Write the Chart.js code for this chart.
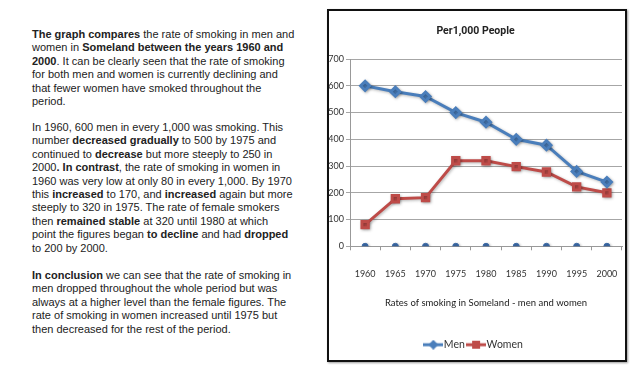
<!DOCTYPE html>
<html>
<head>
<meta charset="utf-8">
<script src="https://cdn.jsdelivr.net/npm/chart.js@4/dist/chart.umd.min.js"></script>
<style>
  body { margin: 0; background: #fff; width: 638px; height: 371px; overflow: hidden; position: relative; }
  .txt { position: absolute; left: 32px; font-family: "Liberation Sans", Arial, sans-serif; font-size: 11px; line-height: 13.4px; color: #222; white-space: nowrap; margin: 0; }
  #box { position: absolute; left: 327px; top: 9px; width: 296px; height: 349px; border: 2px solid #111; box-shadow: 1px 1px 2px rgba(0,0,0,0.4); }
  #box canvas { display: block; }
</style>
</head>
<body>
<p class="txt" style="top:28px"><b>The graph compares</b> the rate of smoking in men and<br>women in <b>Someland between the years 1960 and</b><br><b>2000</b>. It can be clearly seen that the rate of smoking<br>for both men and women is currently declining and<br>that fewer women have smoked throughout the<br>period.</p>
<p class="txt" style="top:121px">In 1960, 600 men in every 1,000 was smoking. This<br>number <b>decreased gradually</b> to 500 by 1975 and<br>continued to <b>decrease</b> but more steeply to 250 in<br>2000<b>. In contrast</b>, the rate of smoking in women in<br>1960 was very low at only 80 in every 1,000. By 1970<br>this <b>increased</b> to 170, and <b>increased</b> again but more<br>steeply to 320 in 1975. The rate of female smokers<br>then <b>remained stable</b> at 320 until 1980 at which<br>point the figures began <b>to decline</b> and had <b>dropped</b><br>to 200 by 2000.</p>
<p class="txt" style="top:269px"><b>In conclusion</b> we can see that the rate of smoking in<br>men dropped throughout the whole period but was<br>always at a higher level than the female figures. The<br>rate of smoking in women increased until 1975 but<br>then decreased for the rest of the period.</p>
<div id="box"><canvas id="chart" width="296" height="349"></canvas></div>
<script>
const years = ['1960', '1965', '1970', '1975', '1980', '1985', '1990', '1995', '2000'];
const men = [600, 578, 560, 500, 464, 400, 378, 280, 240];
const women = [81, 178, 182, 320, 320, 298, 278, 222, 200];
const yearBase = [0, 0, 0, 0, 0, 0, 0, 0, 0];
const yTicks = [0, 100, 200, 300, 400, 500, 600, 700];

const font = 'Lato, "Liberation Sans", sans-serif';
const boldFont = 'Roboto, "Liberation Sans", sans-serif';
const blue = '#4a7ebb';
const red = '#be4b48';

// small legend icon: line with the marker in the middle
function legendIcon(color, style) {
    const c = document.createElement('canvas');
    c.width = 20; c.height = 10;
    const g = c.getContext('2d');
    g.strokeStyle = color; g.fillStyle = color; g.lineWidth = 3;
    g.beginPath(); g.moveTo(0, 5); g.lineTo(20, 5); g.stroke();
    if (style === 'rect') {
        g.fillRect(6, 1, 8, 8);
    } else {
        g.beginPath(); g.moveTo(10, 0); g.lineTo(15, 5); g.lineTo(10, 10); g.lineTo(5, 5); g.closePath(); g.fill();
    }
    return c;
}

const lineShadow = {
    id: 'lineShadow',
    beforeDatasetsDraw(chart) {
        const ctx = chart.ctx;
        ctx.save();
        ctx.shadowColor = 'rgba(0,0,0,0.3)';
        ctx.shadowBlur = 3;
        ctx.shadowOffsetX = 1;
        ctx.shadowOffsetY = 1;
    },
    afterDatasetsDraw(chart) {
        chart.ctx.restore();
    }
};

const ctx = document.getElementById('chart').getContext('2d');
const chart = new Chart(ctx, {
    type: 'line',
    data: {
        labels: years,
        datasets: [{
            label: 'Men',
            data: men,
            borderColor: blue,
            backgroundColor: blue,
            borderWidth: 3,
            pointStyle: 'rectRot',
            pointRadius: 4.5,
            tension: 0
        }, {
            label: 'Women',
            data: women,
            borderColor: red,
            backgroundColor: red,
            borderWidth: 3,
            pointStyle: 'rect',
            pointRadius: 4.5,
            tension: 0
        }, {
            label: 'Year',
            data: yearBase,
            showLine: false,
            borderColor: '#3c6aa6',
            backgroundColor: '#3c6aa6',
            pointStyle: 'circle',
            pointRadius: 3
        }]
    },
    options: {
        responsive: false,
        animation: false,
        layout: { autoPadding: false, padding: { left: 0, right: 3, top: 0, bottom: 0 } },
        plugins: {
            title: {
                display: true,
                text: 'Per1,000 People',
                color: '#222',
                font: { family: boldFont, size: 10.5, weight: 'bold' },
                padding: { top: 14, bottom: 21.5 }
            },
            legend: {
                position: 'bottom',
                labels: {
                    color: '#333',
                    font: { family: font, size: 10.5 },
                    usePointStyle: true,
                    boxWidth: 20,
                    padding: 6,
                    filter: (item) => item.text !== 'Year',
                    generateLabels(ch) {
                        return ch.data.datasets.map((ds, i) => ({
                            text: ds.label,
                            pointStyle: legendIcon(ds.borderColor, ds.pointStyle),
                            fillStyle: ds.borderColor,
                            strokeStyle: ds.borderColor,
                            lineWidth: 0,
                            fontColor: '#333',
                            datasetIndex: i
                        }));
                    }
                }
            },
            tooltip: { enabled: false }
        },
        scales: {
            x: {
                offset: true,
                afterFit(scale) { scale.paddingLeft = 0; scale.paddingRight = 0; },
                grid: { display: true, drawOnChartArea: false, offset: true, tickLength: 4, color: '#999' },
                border: { color: '#999' },
                ticks: { color: '#333', padding: 18, maxRotation: 0, font: { family: font, size: 9 } },
                title: {
                    display: true,
                    text: 'Rates of smoking in Someland - men and women',
                    color: '#1a1a1a',
                    font: { family: font, size: 9.5 },
                    padding: { top: 0, bottom: 25 }
                }
            },
            y: {
                min: 0,
                max: 700,
                afterBuildTicks(scale) { scale.ticks = yTicks.map(v => ({ value: v })); },
                afterFit(scale) { scale.width = 21; },
                grid: { color: '#a6a6a6', tickLength: 4 },
                border: { color: '#999' },
                ticks: { color: '#333', padding: 2, font: { family: font, size: 9 } }
            }
        }
    },
    plugins: [lineShadow]
});
</script>
</body>
</html>
